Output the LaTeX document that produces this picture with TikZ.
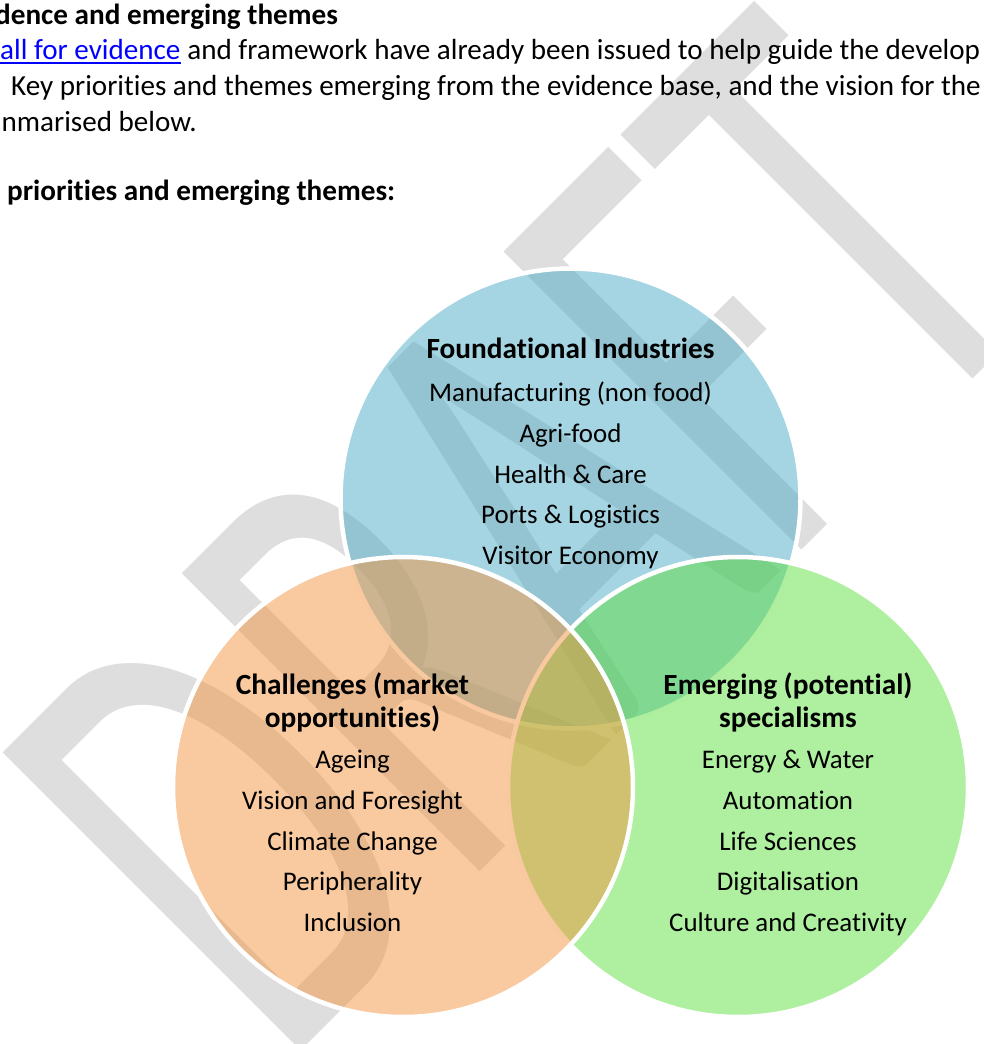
\documentclass[tikz,border=0pt]{standalone}
\usepackage{fontspec}
\setmainfont{Carlito}[Ligatures={NoCommon}]
\definecolor{bluec}{RGB}{75,171,197}
\definecolor{greenc}{RGB}{95,223,65}
\definecolor{orangec}{RGB}{243,149,65}
\definecolor{wmgrey}{RGB}{222,222,222}
\definecolor{linkblue}{RGB}{0,0,255}
\begin{document}
\begin{tikzpicture}[x=1pt,y=-1pt,
  body/.style={anchor=base west, inner sep=0pt, font=\fontsize{29.1}{35}\selectfont},
  bodybold/.style={anchor=base west, inner sep=0pt, font=\fontsize{29.2}{35}\selectfont\bfseries},
  item/.style={anchor=base, inner sep=0pt, font=\fontsize{26.9}{32}\selectfont},
  ttl/.style={anchor=base, inner sep=0pt, font=\fontsize{29.3}{32}\selectfont\bfseries},
  venn/.style={circle, minimum size=460pt, inner sep=0pt, fill opacity=0.5, draw=white, draw opacity=1, line width=4.5pt}]
\useasboundingbox (0,0) rectangle (984,1044);
% watermark
\node[rotate=45, anchor=base west, inner sep=0pt, text=wmgrey] (wm) at (281.5,1070.5)
  {\scalebox{0.621}[1]{\fontsize{657}{657}\selectfont DRAFT}};
% top text
\node[bodybold] (h1) at (-5,24) {dence and emerging themes};
\node[body, text=linkblue] (link) at (0,59) {all for evidence};
\node[body] (l2) at (link.base east) {\ and framework have already been issued to help guide the develop};
\draw[linkblue, line width=1.8pt] ([yshift=-4pt]link.base west) -- ([yshift=-4pt]link.base east);
\node[body] (l3) at (11,95) {Key priorities and themes emerging from the evidence base, and the vision for the};
\node[body] (l4) at (1.5,131) {nmarised below.};
\node[bodybold] (l6) at (7,200) {priorities and emerging themes:};
% circles
\node[venn, fill=bluec] (cblue) at (570.5,498.5) {};
\node[venn, fill=greenc] (cgreen) at (738,787) {};
\node[venn, fill=orangec] (corange) at (403,787) {};
% blue text
\node[ttl] (b0) at (570.5,358) {Foundational Industries};
\node[item] (b1) at (570.5,401.4) {Manufacturing (non food)};
\node[item] (b2) at (570.5,442.2) {Agri-food};
\node[item] (b3) at (570.5,483) {Health \& Care};
\node[item] (b4) at (570.5,523.8) {Ports \& Logistics};
\node[item] (b5) at (570.5,564.6) {Visitor Economy};
% orange text
\node[ttl] (o0) at (352.5,694.5) {Challenges (market};
\node[ttl] (o0b) at (352.5,727) {opportunities)};
\node[item] (o1) at (352.5,768.5) {Ageing};
\node[item] (o2) at (352.5,809.3) {Vision and Foresight};
\node[item] (o3) at (352.5,850.1) {Climate Change};
\node[item] (o4) at (352.5,890.9) {Peripherality};
\node[item] (o5) at (352.5,931.7) {Inclusion};
% green text
\node[ttl] (g0) at (788,694.5) {Emerging (potential)};
\node[ttl] (g0b) at (788,727) {specialisms};
\node[item] (g1) at (788,768.5) {Energy \& Water};
\node[item] (g2) at (788,809.3) {Automation};
\node[item] (g3) at (788,850.1) {Life Sciences};
\node[item] (g4) at (788,890.9) {Digitalisation};
\node[item] (g5) at (788,931.7) {Culture and Creativity};
\end{tikzpicture}
\end{document}
